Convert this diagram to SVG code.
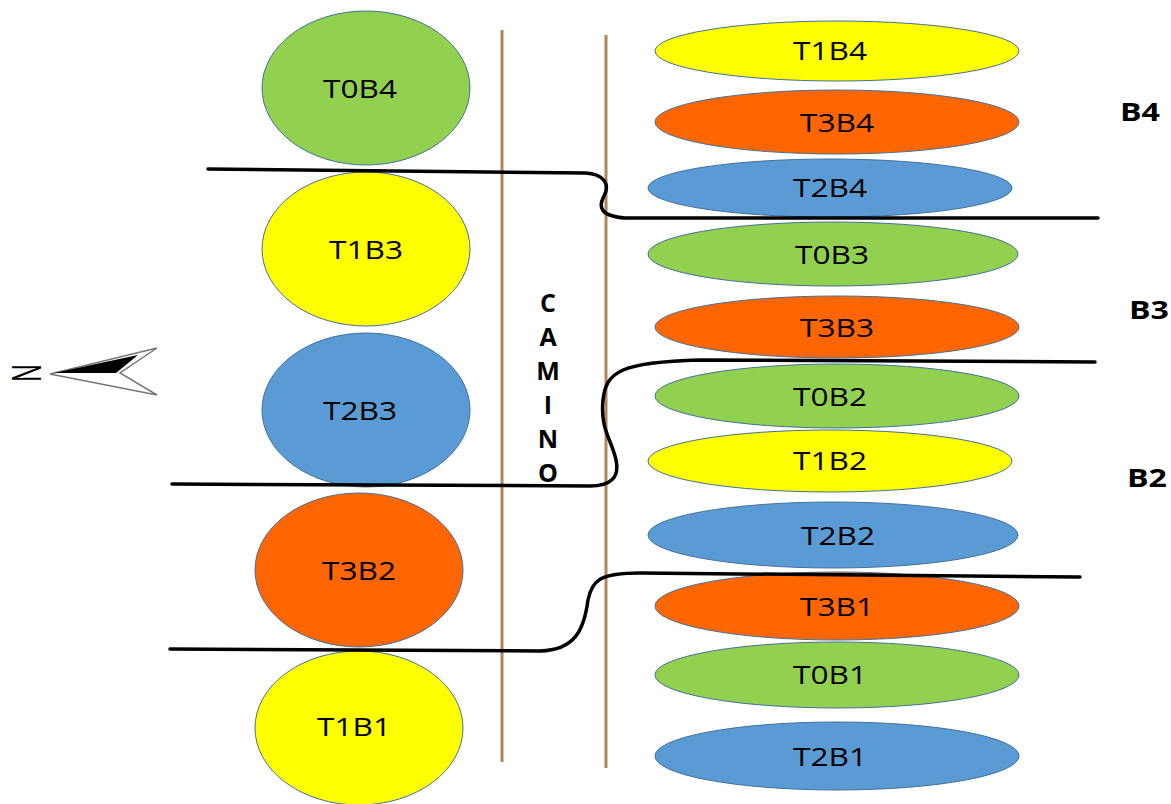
<svg xmlns="http://www.w3.org/2000/svg" width="1171" height="804" viewBox="0 0 1171 804">
<style>
.n{stroke:#41719c;stroke-width:1}
.g{fill:#92d050}.y{fill:#ffff00}.o{fill:#ff6600}.b{fill:#5b9bd5}
text{font-family:"Open Sans","Liberation Sans",sans-serif;font-size:25px;text-anchor:middle;dominant-baseline:central;fill:#000}
.lbl{font-weight:bold;font-size:24px}
.cam{font-weight:bold;font-size:27px}
.road{stroke:#b5835a;stroke-width:3;fill:none}
.cut{stroke:#000;stroke-width:3.5;fill:none;stroke-linecap:round}
</style>
<rect width="1171" height="804" fill="#fff"/>
<g id="road">
<line class="road" x1="502" y1="30" x2="502" y2="762"/>
<line class="road" x1="606" y1="35" x2="606" y2="768"/>
<g id="camino" class="cam">
<text x="548" y="302">C</text><text x="548" y="336">A</text><text x="548" y="370">M</text><text x="548" y="404">I</text><text x="548" y="438">N</text><text x="548" y="472">O</text>
</g>
</g>
<g id="north">
<text transform="translate(28,373) rotate(90) scale(1,1.7)" style="font-size:24px">N</text>
<polygon points="50,374 157,348 120,373 157,395" fill="#fff" stroke="#777" stroke-width="1.5"/>
<polygon points="54,373 138,355 116,373" fill="#000"/>
</g>
<g id="T0B4"><ellipse class="n g" cx="366" cy="88" rx="104" ry="77"/><text x="360" y="88" textLength="74" lengthAdjust="spacingAndGlyphs">T0B4</text></g>
<g id="T1B3"><ellipse class="n y" cx="366" cy="249" rx="104" ry="77"/><text x="366" y="249" textLength="74" lengthAdjust="spacingAndGlyphs">T1B3</text></g>
<g id="T2B3"><ellipse class="n b" cx="366" cy="410" rx="104" ry="77"/><text x="360" y="410" textLength="74" lengthAdjust="spacingAndGlyphs">T2B3</text></g>
<g id="T3B2"><ellipse class="n o" cx="359" cy="570" rx="104" ry="77"/><text x="359" y="570" textLength="74" lengthAdjust="spacingAndGlyphs">T3B2</text></g>
<g id="T1B1"><ellipse class="n y" cx="359" cy="728" rx="104" ry="77"/><text x="354" y="726" textLength="74" lengthAdjust="spacingAndGlyphs">T1B1</text></g>
<g id="T1B4"><ellipse class="n y" cx="837" cy="51" rx="182" ry="30"/><text x="830" y="50" textLength="74" lengthAdjust="spacingAndGlyphs">T1B4</text></g>
<g id="T3B4"><ellipse class="n o" cx="837" cy="122" rx="182" ry="32"/><text x="837" y="122" textLength="74" lengthAdjust="spacingAndGlyphs">T3B4</text></g>
<g id="T2B4"><ellipse class="n b" cx="830" cy="188" rx="182" ry="29"/><text x="830" y="187" textLength="74" lengthAdjust="spacingAndGlyphs">T2B4</text></g>
<g id="T0B3"><ellipse class="n g" cx="833" cy="254" rx="185" ry="32"/><text x="832" y="254" textLength="74" lengthAdjust="spacingAndGlyphs">T0B3</text></g>
<g id="T3B3"><ellipse class="n o" cx="837" cy="327" rx="182" ry="31"/><text x="837" y="327" textLength="74" lengthAdjust="spacingAndGlyphs">T3B3</text></g>
<g id="T0B2"><ellipse class="n g" cx="837" cy="396" rx="182" ry="32"/><text x="830" y="396" textLength="74" lengthAdjust="spacingAndGlyphs">T0B2</text></g>
<g id="T1B2"><ellipse class="n y" cx="830" cy="461" rx="182" ry="31"/><text x="830" y="460" textLength="74" lengthAdjust="spacingAndGlyphs">T1B2</text></g>
<g id="T2B2"><ellipse class="n b" cx="833" cy="535" rx="185" ry="33"/><text x="838" y="535" textLength="74" lengthAdjust="spacingAndGlyphs">T2B2</text></g>
<g id="T3B1"><ellipse class="n o" cx="837" cy="606" rx="182" ry="34"/><text x="837" y="606" textLength="74" lengthAdjust="spacingAndGlyphs">T3B1</text></g>
<g id="T0B1"><ellipse class="n g" cx="837" cy="675" rx="182" ry="33"/><text x="830" y="674" textLength="74" lengthAdjust="spacingAndGlyphs">T0B1</text></g>
<g id="T2B1"><ellipse class="n b" cx="837" cy="756" rx="182" ry="34"/><text x="830" y="756" textLength="74" lengthAdjust="spacingAndGlyphs">T2B1</text></g>
<g id="connectors">
<path class="cut" d="M208,169 L585,173 C605,174 610,185 604,196 C598,207 600,216 625,218 L1098,218"/>
<path class="cut" d="M1095,362 L700,360 C620,362 606,372 603,400 C600,430 612,440 616,460 C620,478 610,486 590,486 L172,484"/>
<path class="cut" d="M1080,577 L640,573 C600,573 592,580 588,600 C584,630 575,650 540,651 L170,649"/>
</g>
<g id="blocks" class="lbl">
<text x="1140" y="111" textLength="40" lengthAdjust="spacingAndGlyphs">B4</text>
<text x="1149" y="309" textLength="40" lengthAdjust="spacingAndGlyphs">B3</text>
<text x="1147" y="477" textLength="40" lengthAdjust="spacingAndGlyphs">B2</text>
</g>
</svg>
